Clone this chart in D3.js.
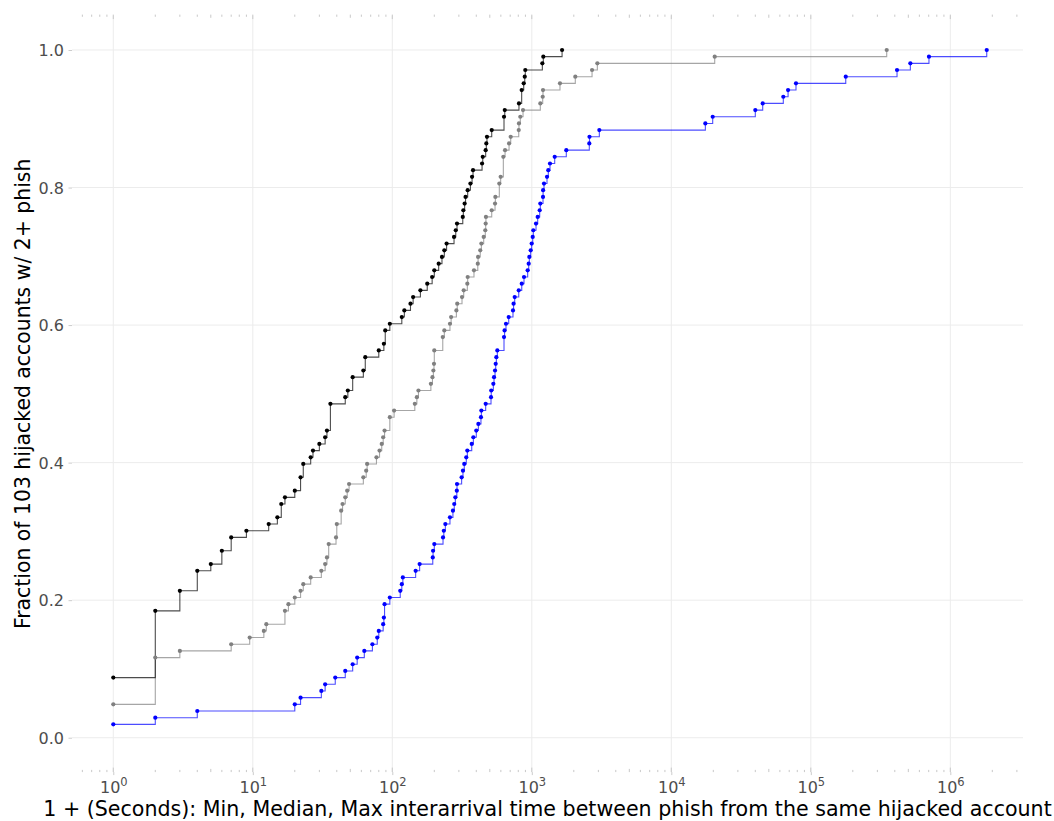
<!DOCTYPE html>
<html><head><meta charset="utf-8">
<script src="https://cdn.jsdelivr.net/npm/d3@7"></script>
<style>body{margin:0;background:#fff} svg text{font-family:"DejaVu Sans",sans-serif}</style>
</head><body><svg id="c" width="1054" height="821"></svg>
<script>
const totalAccounts = 103;
// Min interarrival (1 + seconds): distinct values and how many accounts share each
const minValues = [1,2,3,4,5,6,7,9,13,15,16,17,20,22,23,26,27,30,33,34,36,46,48,52,62,64,80,87,89,96,117,122,135,141,159,178,193,200,215,227,236,245,277,285,291,320,323,330,335,347,363,373,379,440,445,467,472,477,516,632,640,809,846,875,890,898,1190,1209,1648];
const minCounts = [9,10,3,3,1,2,2,1,1,1,2,1,1,2,2,1,1,1,1,1,4,1,1,2,1,2,1,1,2,1,1,1,1,1,1,1,1,1,1,1,1,1,1,1,1,1,1,1,1,1,1,1,1,1,1,1,1,1,1,2,1,1,2,1,1,1,1,1,1];
// Median interarrival
const medianValues = [1,2,3,7,9.5,12,12.5,17,18,20,22,23,26,31,33,34,35,39.5,40,43,44,46,47.5,49,62,65,66,77,81,84,86,88,96,103,145,150,154,189,194,197,199,200,230,236,259,264,288,292,316,325,345,347,385,410,412,427,435,452,464,467,469,516,545,548,585,598,625,643,687,706,806,809,827,865,1151,1197,1203,1592,2050,2703,2950,20470,350000];
const medianCounts = [5,7,1,1,1,1,1,2,1,1,1,1,1,1,1,1,2,1,2,2,1,1,1,1,1,1,1,1,1,1,1,1,2,1,1,1,1,1,1,1,1,2,2,1,1,1,1,1,1,1,1,1,1,1,1,1,1,1,1,1,1,1,1,1,2,1,3,1,1,1,1,1,1,1,1,1,1,1,1,1,1,1,1];
// Max interarrival
const maxValues = [1,2,4,20,22,31,33,39,46,52,56,63,72,78,80,86,87,88,96,114,117,119,147,157,195,196,200,231,234,240,259,272,278,283,290,291,314,321,328,339,345,371,381,400,414,432,435,467,510,512,530,536,545,551,557,566,632,638,653,683,733,740,754,806,847,879,934,950,960,982,998,1015,1025,1072,1102,1139,1151,1203,1205,1223,1285,1313,1350,1459,1767,2583,2591,3048,17540,19800,40000,45200,63500,68700,78300,178000,415000,517000,703000,1824000];
const maxCounts = [2,1,1,1,1,1,1,1,1,1,1,1,1,1,1,1,1,2,1,1,1,1,1,1,1,1,1,1,1,1,1,1,1,1,1,1,1,1,1,1,1,1,1,1,1,1,1,1,1,1,1,1,1,1,1,1,2,1,1,1,1,1,1,1,1,1,1,1,1,1,1,1,1,1,1,1,1,1,1,1,1,1,1,1,1,1,1,1,1,1,1,1,1,1,1,1,1,1,1,1];
const seriesNames = ["Median","Min","Max"];
const seriesColors = ["#808080","#000000","#0000ff"];
const yTicks = [0, 0.2, 0.4, 0.6, 0.8, 1.0];
const xTickExponents = [0,1,2,3,4,5,6];
const xLabel = "1 + (Seconds): Min, Median, Max interarrival time between phish from the same hijacked account";
const yLabel = "Fraction of 103 hijacked accounts w/ 2+ phish";

const svg = d3.select("#c");
svg.append("rect").attr("width",1054).attr("height",821).attr("fill","#fff");
const P = {left:72, right:1023, top:15.6, bottom:772.1};
const x = d3.scaleLog().domain([0.5058, 3.319e6]).range([P.left, P.right]);
const y = d3.scaleLinear().domain([-0.05, 1.05]).range([P.bottom, P.top]);

// gridlines
const grid = svg.append("g");
grid.selectAll("line.gy").data(yTicks).join("line")
  .attr("x1",P.left).attr("x2",P.right).attr("y1",d=>y(d)).attr("y2",d=>y(d))
  .attr("stroke","#ececec").attr("stroke-width",1);
grid.selectAll("line.gx").data(xTickExponents).join("line")
  .attr("y1",P.top).attr("y2",P.bottom).attr("x1",d=>x(Math.pow(10,d))).attr("x2",d=>x(Math.pow(10,d)))
  .attr("stroke","#ececec").attr("stroke-width",1);

// log ticks top and bottom
const logTicks = [];
for (let k=-1;k<=6;k++) for (let m=1;m<=9;m++){ const v=m*Math.pow(10,k); if (v>=x.domain()[0] && v<=x.domain()[1]) logTicks.push({v, m}); }
const tlen = m => m===1?4.5:(m===5?3.2:2.2);
const lt = svg.append("g").attr("stroke","#c8c8c8").attr("stroke-width",1);
lt.selectAll("line.t").data(logTicks).join("line")
  .attr("x1",d=>x(d.v)).attr("x2",d=>x(d.v)).attr("y1",P.top-1).attr("y2",d=>P.top-1+tlen(d.m));
lt.selectAll("line.b").data(logTicks).join("line")
  .attr("x1",d=>x(d.v)).attr("x2",d=>x(d.v)).attr("y1",P.bottom).attr("y2",d=>P.bottom-tlen(d.m));

// axes
const yAxis = svg.append("g").attr("transform",`translate(${P.left},0)`)
  .call(d3.axisLeft(y).tickValues(yTicks).tickFormat(d3.format(".1f")).tickSize(3.5).tickPadding(4.5));
yAxis.select(".domain").remove();
yAxis.selectAll("line").attr("stroke","#cccccc");
yAxis.selectAll("text").attr("font-size",16).attr("fill","#4d4d4d").attr("dy","0.36em").style("font-family","DejaVu Sans");

const xAxis = svg.append("g").attr("transform",`translate(0,${P.bottom})`)
  .call(d3.axisBottom(x).tickValues(xTickExponents.map(e=>Math.pow(10,e))).tickFormat("").tickSize(3));
xAxis.select(".domain").remove();
xAxis.selectAll("line").attr("stroke","#cccccc");
xAxis.selectAll(".tick").each(function(d){
  const t = d3.select(this).select("text").attr("y",21).attr("dy",null)
    .attr("font-size",16).attr("fill","#4d4d4d").attr("text-anchor","middle").style("font-family","DejaVu Sans");
  t.text(null);
  t.append("tspan").text("10");
  t.append("tspan").attr("font-size",11.5).attr("dy",-7).text(String(Math.round(Math.log10(d))));
});

// series
const seriesData = [
  {values: medianValues, counts: medianCounts},
  {values: minValues, counts: minCounts},
  {values: maxValues, counts: maxCounts}
].map((s,i)=>{
  const cum = Array.from(d3.cumsum(s.counts));
  return {name: seriesNames[i], color: seriesColors[i], pts: s.values.map((v,j)=>({v, f: cum[j]/totalAccounts}))};
});
const line = d3.line().x(d=>x(d.v)).y(d=>y(d.f)).curve(d3.curveStepAfter);
const sg = svg.append("g");
seriesData.forEach(s=>{
  sg.append("path").datum(s.pts).attr("d",line).attr("fill","none")
    .attr("stroke",s.color).attr("stroke-opacity",0.7).attr("stroke-width",1.1);
});
seriesData.forEach(s=>{
  sg.append("g").selectAll("circle").data(s.pts).join("circle")
    .attr("cx",d=>x(d.v)).attr("cy",d=>y(d.f)).attr("r",2.1).attr("fill",s.color);
});

// titles
svg.append("text").attr("x",(P.left+P.right)/2).attr("y",815.5).attr("text-anchor","middle")
  .attr("font-size",20.6).attr("fill","#000").text(xLabel);
svg.append("text").attr("transform",`translate(30,${(P.top+P.bottom)/2}) rotate(-90)`).attr("text-anchor","middle")
  .attr("font-size",20.4).attr("fill","#000").text(yLabel);
</script></body></html>
